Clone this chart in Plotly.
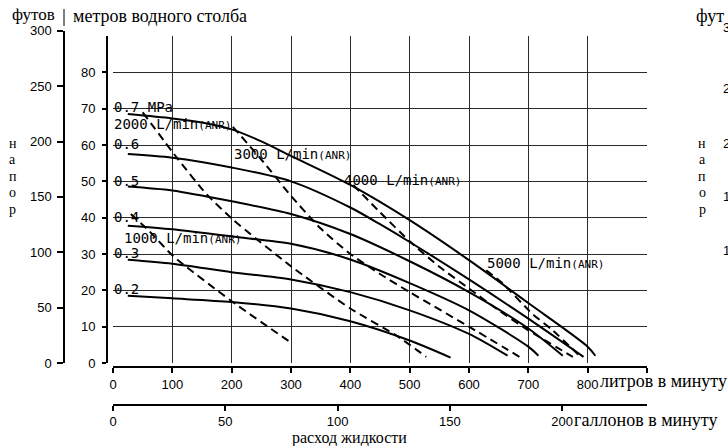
import plotly.graph_objects as go

# ---------------- data (flow in L/min, head in m) ----------------
flow_07 = [25, 100, 150, 200, 250, 300, 400, 500, 600, 700, 800, 813]
head_07 = [68.5, 67.3, 66.2, 64.3, 61.0, 57.0, 49.0, 39.3, 28.3, 16.5, 4.5, 2.0]
flow_06 = [25, 100, 200, 300, 400, 450, 500, 600, 700, 793]
head_06 = [57.5, 56.5, 53.8, 50.0, 42.8, 38.2, 33.3, 23.0, 12.2, 1.7]
flow_05 = [25, 100, 200, 300, 400, 500, 600, 700, 758]
head_05 = [48.6, 47.5, 44.5, 41.0, 35.5, 28.0, 19.5, 9.5, 2.0]
flow_04 = [25, 100, 200, 300, 400, 500, 600, 700, 717]
head_04 = [37.8, 36.8, 34.8, 32.8, 28.5, 22.0, 14.5, 4.5, 2.0]
flow_03 = [25, 100, 200, 300, 400, 500, 600, 665]
head_03 = [28.4, 27.3, 25.0, 23.0, 19.5, 14.5, 8.0, 2.0]
flow_02 = [25, 100, 200, 300, 400, 500, 569]
head_02 = [18.5, 17.8, 16.8, 15.0, 11.5, 6.2, 1.5]

air_1000_flow = [30, 60, 101, 200, 301]
air_1000_head = [41.0, 36.5, 29.5, 17.0, 5.5]
air_2000_flow = [50, 110, 158, 202, 301, 400, 478, 528]
air_2000_head = [69.0, 56.0, 46.4, 39.5, 26.5, 15.0, 7.5, 1.7]
air_3000_flow = [202, 250, 300, 350, 400, 450, 500, 600, 685]
air_3000_head = [65.0, 56.0, 46.0, 37.0, 30.0, 24.5, 19.5, 10.0, 1.7]
air_4000_flow = [405, 450, 500, 550, 600, 650, 700, 775]
air_4000_head = [49.0, 41.5, 33.5, 26.5, 20.5, 14.5, 9.0, 1.7]
air_5000_flow = [629, 656, 707, 741, 788]
air_5000_head = [25.5, 22.0, 13.5, 9.0, 1.7]

pressure_labels = ["0.7 MPa", "0.6", "0.5", "0.4", "0.3", "0.2"]
pressure_label_head = [70.4, 60.2, 50.2, 40.2, 30.2, 20.3]
air_labels = ["2000", "3000", "4000", "1000", "5000"]
air_label_flow = [0, 202, 388, 17, 628]
air_label_head = [65.8, 57.5, 50.3, 34.5, 27.6]

liters_ticks = [0, 100, 200, 300, 400, 500, 600, 700, 800, 900]
liters_text = ["0", "100", "200", "300", "400", "500", "600", "700", "800", ""]
gallon_ticks = [0, 50, 100, 150, 200]
meter_ticks = [0, 10, 20, 30, 40, 50, 60, 70, 80]
feet_ticks = [0, 50, 100, 150, 200, 250, 300]

X_MAX = 900
Y_MAX = 90
L_PER_GAL = 3.78541
M_PER_FT = 0.3048

# ---------------- layout geometry (pixels) ----------------
W, H = 728, 446
ML, MR, MT, MB = 60, 81, 30, 36
PW = W - ML - MR
PH = H - MT - MB


def fx(px):
    return (px - ML) / PW


def fy(py):
    return (H - MB - py) / PH


PX0, PX1 = 113, 647
PY0, PY1 = 363, 36
px_per_m = (PY0 - PY1) / Y_MAX
feet_top_py = PY0 - feet_ticks[-1] * M_PER_FT * px_per_m

fig = go.Figure()

solid = dict(color="black", width=2)
dash = dict(color="black", width=2, dash="8px,5px")

for fl, hd in [(flow_07, head_07), (flow_06, head_06), (flow_05, head_05),
               (flow_04, head_04), (flow_03, head_03), (flow_02, head_02)]:
    fig.add_trace(go.Scatter(x=fl, y=hd, mode="lines", line=solid,
                             line_shape="spline", line_smoothing=0.8,
                             showlegend=False, hoverinfo="skip"))

for fl, hd in [(air_1000_flow, air_1000_head), (air_2000_flow, air_2000_head),
               (air_3000_flow, air_3000_head), (air_4000_flow, air_4000_head),
               (air_5000_flow, air_5000_head)]:
    fig.add_trace(go.Scatter(x=fl, y=hd, mode="lines", line=dash,
                             line_shape="spline", line_smoothing=0.6,
                             showlegend=False, hoverinfo="skip"))

# dummy traces to register the extra axes
for xa, ya in [("x2", "y"), ("x3", "y"), ("x", "y3"), ("x4", "y2")]:
    fig.add_trace(go.Scatter(x=[None], y=[None], xaxis=xa, yaxis=ya,
                             showlegend=False, hoverinfo="skip"))

tick_font = dict(family="Liberation Sans Narrow, Liberation Sans, Arial", size=13, color="black")
serif = "Liberation Serif, Times New Roman, serif"
mono = "DejaVu Sans Mono, Liberation Mono, monospace"
grid_col = "#2a2a2a"

xdom = [fx(PX0), fx(PX1)]
ydom = [fy(PY0), fy(PY1)]

fig.update_layout(
    width=W, height=H,
    margin=dict(l=ML, r=MR, t=MT, b=MB, pad=0),
    paper_bgcolor="white", plot_bgcolor="rgba(0,0,0,0)",
    showlegend=False,
    xaxis=dict(domain=xdom, range=[0, X_MAX], anchor="y",
               tickvals=liters_ticks[1:], showticklabels=False, ticks="",
               showgrid=True, gridcolor=grid_col, gridwidth=1,
               zeroline=False, showline=False, fixedrange=True),
    yaxis=dict(domain=ydom, range=[0, Y_MAX], anchor="x",
               tickvals=[10, 20, 30, 40, 50, 60, 70, 80, 90], showticklabels=False, ticks="",
               showgrid=True, gridcolor=grid_col, gridwidth=1,
               zeroline=False, showline=False, fixedrange=True),
    # liters axis (offset below plot)
    xaxis3=dict(overlaying="x", range=[0, X_MAX], anchor="free", position=fy(367),
                tickvals=liters_ticks, ticktext=liters_text, ticks="outside",
                ticklen=5, tickwidth=1.5, tickcolor="black", tickfont=tick_font,
                showline=True, linecolor="black", linewidth=2,
                showgrid=False, zeroline=False, side="bottom", fixedrange=True),
    # gallons axis
    xaxis2=dict(overlaying="x", range=[0, X_MAX / L_PER_GAL], anchor="free", position=fy(405),
                tickvals=gallon_ticks, ticks="outside", ticklabelstandoff=-1,
                ticklen=5, tickwidth=1.5, tickcolor="black", tickfont=tick_font,
                showline=True, linecolor="black", linewidth=2,
                showgrid=False, zeroline=False, side="bottom", fixedrange=True),
    xaxis4=dict(domain=xdom, range=[0, X_MAX], anchor="y2", visible=False, fixedrange=True),
    # metres axis
    yaxis3=dict(overlaying="y", range=[0, Y_MAX], anchor="free", position=fx(107),
                tickvals=meter_ticks, ticks="outside", ticklen=4, tickwidth=1.5,
                tickcolor="black", tickfont=tick_font, ticklabelstandoff=4,
                showline=True, linecolor="black", linewidth=2,
                showgrid=False, zeroline=False, side="left", fixedrange=True),
    # feet axis
    yaxis2=dict(domain=[fy(PY0), fy(feet_top_py)], range=[0, feet_ticks[-1]],
                anchor="free", position=fx(64),
                tickvals=feet_ticks, ticks="outside", ticklen=6, tickwidth=1.5,
                tickcolor="black", tickfont=tick_font, ticklabelstandoff=3,
                showline=True, linecolor="black", linewidth=1.5,
                showgrid=False, zeroline=False, side="left", fixedrange=True),
)

ann = []
for txt, hy in zip(pressure_labels, pressure_label_head):
    ann.append(dict(x=0, y=hy, xref="x", yref="y", text=txt, showarrow=False,
                    xanchor="left", yanchor="middle", xshift=-1,
                    font=dict(family=mono, size=14, color="black")))
for txt, ax_, ay_ in zip(air_labels, air_label_flow, air_label_head):
    ann.append(dict(x=ax_, y=ay_, xref="x", yref="y",
                    text=txt + " L/min<span style='font-size:11px'>(ANR)</span>",
                    showarrow=False, xanchor="left", yanchor="middle", xshift=-1,
                    font=dict(family=mono, size=14, color="black")))


def ptext(txt, px, py, xanchor="left", size=18, family=serif):
    ann.append(dict(x=fx(px), y=fy(py), xref="paper", yref="paper", text=txt,
                    showarrow=False, xanchor=xanchor, yanchor="middle",
                    font=dict(family=family, size=size, color="black")))


ptext("футов", 57, 15, xanchor="right", size=17)
ptext("метров водного столба", 71, 16)
ptext("литров в минуту", 598, 381)
ptext("галлонов в минуту", 572, 420)
ptext("расход жидкости", 349, 438, xanchor="center", size=16)
letter_py = [143, 159.5, 176, 192.5, 209]
for letter, py in zip("напор", letter_py):
    ptext(letter, 13, py, xanchor="center", size=14)
# edge of the neighbouring chart at the right border
ptext("фут", 694, 16)
for letter, py in zip("напор", letter_py):
    ptext(letter, 702, py, xanchor="center", size=14)
for d, py in zip(["3", "2", "2", "1", "1"], [28, 88, 143, 196, 250]):
    ptext(d, 721, py, size=13, family="Liberation Sans, Arial")

fig.update_layout(annotations=ann)
fig.add_shape(type="line", xref="paper", yref="paper",
              x0=fx(64), x1=fx(64), y0=fy(9), y1=fy(26),
              line=dict(color="black", width=1))

fig.write_html("out.html", config={"displayModeBar": False},
               post_script="document.body.style.margin='0';document.body.style.padding='0';")
